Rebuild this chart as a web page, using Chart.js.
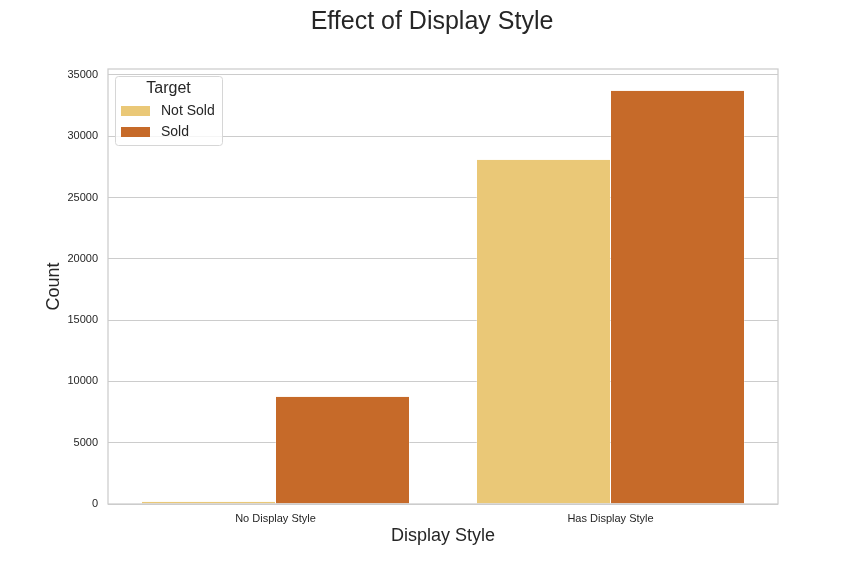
<!DOCTYPE html>
<html>
<head>
<meta charset="utf-8">
<script src="https://cdn.jsdelivr.net/npm/chart.js@4"></script>
<style>
  html, body { margin: 0; padding: 0; background: #fff; }
  #wrap { width: 864px; height: 576px; }
</style>
</head>
<body>
<div id="wrap"><canvas id="chart" width="864" height="576"></canvas></div>
<script>
// data
const categories = ['No Display Style', 'Has Display Style']
const notSold = [180, 28070]
const sold = [8740, 33700]
const seriesNames = ['Not Sold', 'Sold']
const yTicks = [0, 5000, 10000, 15000, 20000, 25000, 30000, 35000]

const colors = ['#EAC877', '#C66A29']
const textColor = '#262626'
const gridColor = '#cccccc'
const font = '"Liberation Sans", Arial, sans-serif'

// frame around plot area (seaborn whitegrid spines)
const framePlugin = {
  id: 'frame',
  afterDatasetsDraw(chart) {
    const { ctx, chartArea: a } = chart
    ctx.save()
    ctx.strokeStyle = gridColor
    ctx.lineWidth = 1.25
    ctx.strokeRect(a.left, a.top, a.right - a.left, a.bottom - a.top)
    ctx.restore()
  }
}

// legend drawn inside the plot, upper left, with title
const legendPlugin = {
  id: 'innerLegend',
  afterDraw(chart) {
    const { ctx, chartArea: a } = chart
    const x = a.left + 7, y = a.top + 7, w = 107, h = 69
    ctx.save()
    ctx.fillStyle = 'rgba(255,255,255,0.8)'
    ctx.strokeStyle = '#d6d6d6'
    ctx.lineWidth = 1
    ctx.beginPath()
    ctx.roundRect(x + 0.5, y + 0.5, w, h, 3)
    ctx.fill()
    ctx.stroke()
    ctx.fillStyle = textColor
    ctx.textBaseline = 'middle'
    ctx.textAlign = 'center'
    ctx.font = '16px ' + font
    ctx.fillText('Target', x + w / 2, y + 13)
    ctx.textAlign = 'left'
    ctx.font = '14px ' + font
    chart.data.datasets.forEach((ds, i) => {
      const ry = y + 35 + i * 21
      ctx.fillStyle = ds.backgroundColor
      ctx.fillRect(x + 6, ry - 5, 29, 10)
      ctx.fillStyle = textColor
      ctx.fillText(ds.label, x + 46, ry)
    })
    ctx.restore()
  }
}

new Chart(document.getElementById('chart'), {
  type: 'bar',
  data: {
    labels: categories,
    datasets: [
      { label: seriesNames[0], data: notSold, backgroundColor: colors[0] },
      { label: seriesNames[1], data: sold, backgroundColor: colors[1] }
    ]
  },
  options: {
    responsive: false,
    animation: false,
    layout: { padding: { left: 0, right: 0, top: 0, bottom: 20 } },
    datasets: {
      bar: {
        categoryPercentage: 0.8,
        barPercentage: 1.0,
        borderWidth: { left: 0.5, right: 0.5, top: 0, bottom: 0 },
        borderColor: '#ffffff'
      }
    },
    plugins: {
      legend: { display: false },
      tooltip: { enabled: false },
      title: {
        display: true,
        text: 'Effect of Display Style',
        color: textColor,
        font: { size: 25, family: font, weight: 'normal' },
        padding: { top: 7, bottom: 32 }
      }
    },
    scales: {
      x: {
        grid: { display: false, drawTicks: false },
        border: { display: false },
        ticks: { color: textColor, padding: 8, font: { size: 11, family: font } },
        title: {
          display: true,
          text: 'Display Style',
          color: textColor,
          font: { size: 18, family: font },
          padding: { top: 4, bottom: 9 }
        },
        afterFit(scale) { scale.height = 52 }
      },
      y: {
        min: 0,
        max: 35480,
        grid: { color: gridColor, lineWidth: 1, drawTicks: false },
        border: { display: false },
        afterBuildTicks(scale) { scale.ticks = yTicks.map(v => ({ value: v })) },
        ticks: {
          color: textColor,
          padding: 10,
          font: { size: 11, family: font },
          callback: v => String(v)
        },
        title: {
          display: true,
          text: 'Count',
          color: textColor,
          font: { size: 18, family: font },
          padding: { top: 43, bottom: 4 }
        },
        afterFit(scale) { scale.width = 108 }
      },
      // empty right axis, only reserves the right margin so the title stays centred
      yRight: {
        position: 'right',
        display: true,
        grid: { display: false, drawTicks: false },
        border: { display: false },
        ticks: { display: false },
        afterFit(scale) { scale.width = 86 }
      }
    }
  },
  plugins: [framePlugin, legendPlugin]
})
</script>
</body>
</html>
